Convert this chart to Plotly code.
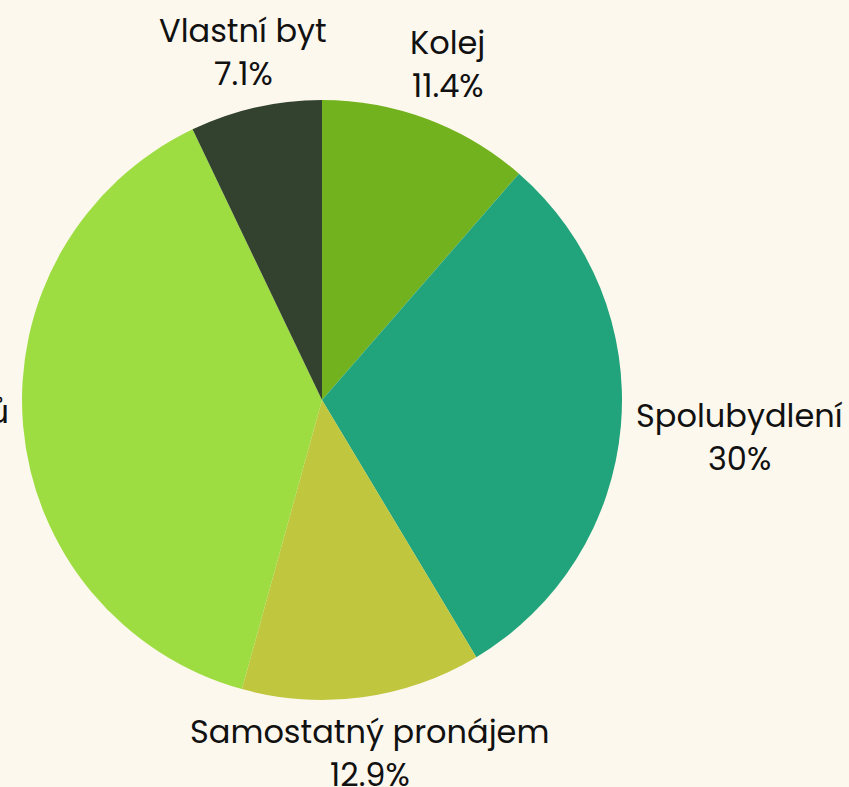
import math
import plotly.graph_objects as go

labels = ["Kolej", "Spolubydlení", "Samostatný pronájem", "U rodičů", "Vlastní byt"]
values = [11.4, 30.0, 12.9, 38.6, 7.1]
colors = ["#72b21e", "#21a37b", "#c0c63e", "#9edd42", "#33412f"]

W, H = 849, 787
cx, cy, r = 322, 400, 300
FONT = "Poppins, Lato, sans-serif"
FS = 32
LABEL_GAP = 18      # distance of label box from the pie edge (px)
LINE_H = 43         # label line spacing (px)
HALF_H = 38         # half height of a two-line label box (px)

fig = go.Figure(go.Pie(
    labels=labels,
    values=values,
    sort=False,
    direction="clockwise",
    rotation=0,
    marker=dict(colors=colors, line=dict(width=0)),
    textinfo="none",
    hoverinfo="label+percent",
    showlegend=False,
    automargin=False,
    domain=dict(x=[(cx - r) / W, (cx + r) / W], y=[(H - cy - r) / H, (H - cy + r) / H]),
))


def text_width(s):
    narrow = set("lijtír1. ")
    wide = set("mwMW%")
    w = 0.0
    for ch in s:
        w += 0.3 if ch in narrow else (0.9 if ch in wide else 0.6)
    return w * FS


def fmt_pct(p):
    s = f"{p:.1f}"
    if s.endswith(".0"):
        s = s[:-2]
    return s + "%"


total = sum(values)
cum = 0.0
for lab, v in zip(labels, values):
    mid = (cum + v / 2) / total * 2 * math.pi
    cum += v
    vx, vy = math.sin(mid), -math.cos(mid)  # screen direction (y down)
    px = cx + vx * (r + LABEL_GAP)
    py = cy + vy * (r + LABEL_GAP)
    pct = fmt_pct(v / total * 100)
    bw = max(text_width(lab), text_width(pct)) / 2
    d = min(bw / abs(vx) if abs(vx) > 1e-6 else 1e9, HALF_H / abs(vy) if abs(vy) > 1e-6 else 1e9)
    lx = px + vx * d
    ly = py + vy * d
    for k, line in enumerate([lab, pct]):
        yy = ly + (k - 0.5) * LINE_H
        fig.add_annotation(
            x=lx / W, y=1 - yy / H, xref="paper", yref="paper",
            text=line, showarrow=False,
            xanchor="center", yanchor="middle", align="center",
            font=dict(family=FONT, size=FS, color="#111111"),
        )

fig.update_layout(
    width=W, height=H,
    margin=dict(l=0, r=0, t=0, b=0),
    paper_bgcolor="#fdf8ee",
    plot_bgcolor="#fdf8ee",
)
fig.write_html(
    "out.html",
    config={"displayModeBar": False},
    post_script="document.body.style.margin='0';document.body.style.overflow='hidden';",
)
